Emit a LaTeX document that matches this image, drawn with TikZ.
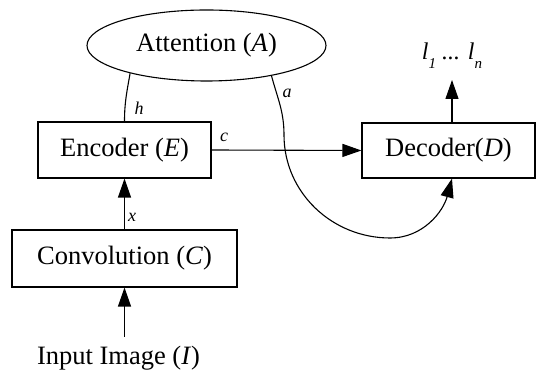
\documentclass[tikz,border=0pt]{standalone}
\usepackage{fontspec}
\setmainfont{Liberation Serif}
\usetikzlibrary{shapes.geometric,arrows.meta,calc}
\newcommand{\lowsub}[1]{\raisebox{-9pt}{\fontsize{15}{15}\selectfont #1}}
\begin{document}
\begin{tikzpicture}[x=1pt,y=1pt,line width=1.1pt,
  big/.style={font=\fontsize{26.5}{30}\selectfont},
  box/.style={draw,rectangle,inner sep=0pt,big},
  tip/.style={-{Triangle[length=19pt,width=13pt]}},
  lab/.style={font=\fontsize{18}{20}\selectfont\itshape,inner sep=0pt}]
\useasboundingbox (0,0) rectangle (536,371);
\node[draw,ellipse,minimum width=239pt,minimum height=71pt,inner sep=0pt,big] (att) at (206.5,325.5) {Attention (\textit{A})};
\node[box,minimum width=173pt,minimum height=56pt] (enc) at (124.5,221) {Encoder (\textit{E})};
\node[box,minimum width=173pt,minimum height=55pt] (dec) at (448.5,220.5) {Decoder(\textit{D})};
\node[box,minimum width=225pt,minimum height=57pt] (conv) at (124.5,112.5) {Convolution (\textit{C})};
\node[big,anchor=base,inner sep=0pt] (inp) at (118.5,6) {Input Image (\textit{I})};
\node[anchor=base,inner sep=0pt,font=\fontsize{24}{26}\selectfont\itshape] (out) at (452,311) {l\lowsub{1} ... l\lowsub{n}};
\coordinate (inbot) at (124.5,34);
\coordinate (dectop) at ($(dec.north)+(3.5,0)$);
\coordinate (decbot) at ($(dec.south)+(3.5,0)$);
\coordinate (outbot) at (452,291);
% connectors
\draw[tip] (inbot) -- (conv.south);
\draw[tip] (conv.north) -- (enc.south);
\draw[tip] (enc.east) -- (dec.west);
\draw[tip] (dectop) -- (outbot);
\draw (att.200.8) to[out=-100,in=90] (enc.north);
\draw[tip] (att.335.8) to[out=-75,in=90] (284,236) to[out=-90,in=180] (390,133) to[out=0,in=-105] (decbot);
% labels
\node[lab] at (139,263) {h};
\node[lab] at (224,234) {c};
\node[lab] at (132,154) {x};
\node[lab] at (287,278) {a};
\end{tikzpicture}
\end{document}
